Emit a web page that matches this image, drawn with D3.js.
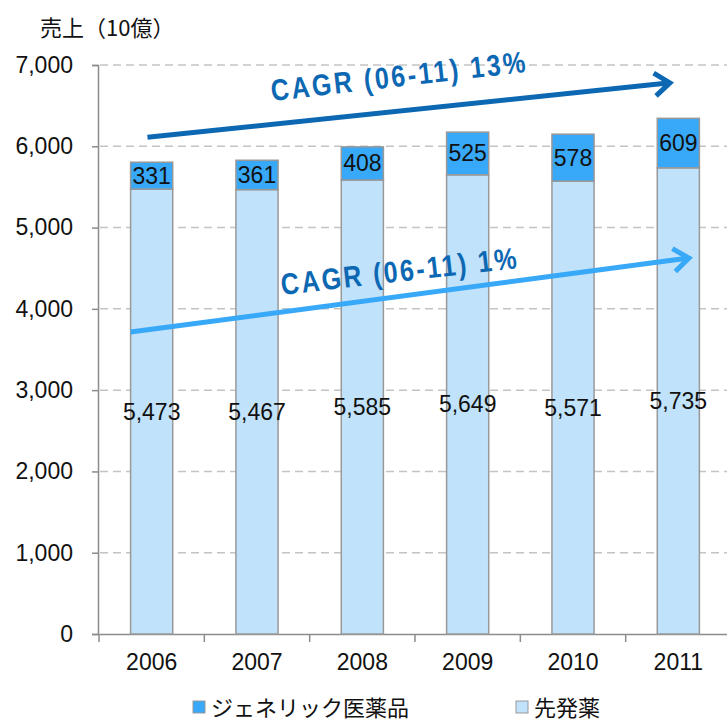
<!DOCTYPE html>
<html>
<head>
<meta charset="utf-8">
<script src="https://cdn.jsdelivr.net/npm/d3@7"></script>
<style>
  body { margin: 0; background: #fff; }
  text { font-family: "Liberation Sans", Arial, sans-serif; }
  .jp { font-family: "Noto Sans CJK JP", "Noto Sans", sans-serif; }
</style>
</head>
<body>
<script>
var years = ["2006", "2007", "2008", "2009", "2010", "2011"];
var generic = [331, 361, 408, 525, 578, 609];
var original = [5473, 5467, 5585, 5649, 5571, 5735];
var yTicks = [0, 1000, 2000, 3000, 4000, 5000, 6000, 7000];
var seriesNames = ["ジェネリック医薬品", "先発薬"];
var cagrLabels = ["CAGR (06-11) 13%", "CAGR (06-11) 1%"];

var w = 727;
var h = 724;
var darkBlue = "#0D68B3";
var genColor = "#38A8F8";
var origColor = "#C0E2FA";

var svg = d3.select("body")
            .append("svg")
              .attr("width", w)
              .attr("height", h);

var x = d3.scaleBand()
  .domain(years)
  .range([99, 731])
  .paddingInner(0.6)
  .paddingOuter(0.3);

var y = d3.scaleLinear()
  .domain([0, 7000])
  .range([634, 65]);

// gridlines
svg.append("g")
  .selectAll("line")
  .data(yTicks.filter(function(d) { return d > 0; }))
  .enter()
  .append("line")
    .attr("x1", 100)
    .attr("x2", w)
    .attr("y1", function(d) { return y(d); })
    .attr("y2", function(d) { return y(d); })
    .attr("stroke", "#c4c4c4")
    .attr("stroke-width", 1.5)
    .attr("stroke-dasharray", "8,5");

// y axis
var yAxis = svg.append("g")
  .attr("transform", "translate(98,0)")
  .call(d3.axisLeft(y).tickValues(yTicks).tickFormat(d3.format(",")).tickSize(6).tickPadding(19));
yAxis.select(".domain").attr("stroke", "#8c8c8c").attr("stroke-width", 1.5);
yAxis.selectAll(".tick line").attr("stroke", "#8c8c8c").attr("stroke-width", 1.5);
yAxis.selectAll(".tick text")
  .style("font-size", "23px")
  .attr("fill", "#111");

// x axis
var xAxis = svg.append("g")
  .attr("transform", "translate(0,634)")
  .call(d3.axisBottom(x).tickSize(0).tickPadding(20));
xAxis.select(".domain").attr("stroke", "#8c8c8c").attr("stroke-width", 1.5);
xAxis.selectAll(".tick text")
  .style("font-size", "23px")
  .attr("fill", "#111");
// tick marks between categories
xAxis.selectAll(".sep")
  .data(years)
  .enter()
  .append("line")
    .attr("x1", function(d) { return x(d) - x.step() * 0.3; })
    .attr("x2", function(d) { return x(d) - x.step() * 0.3; })
    .attr("y1", 0)
    .attr("y2", 8)
    .attr("stroke", "#8c8c8c")
    .attr("stroke-width", 1.5);

// bars: original (bottom)
svg.selectAll("rect.orig")
  .data(original)
  .enter()
  .append("rect")
    .attr("class", "orig")
    .attr("x", function(d, i) { return x(years[i]); })
    .attr("y", function(d) { return y(d); })
    .attr("width", x.bandwidth())
    .attr("height", function(d) { return y(0) - y(d); })
    .attr("fill", origColor)
    .attr("stroke", "#999")
    .attr("stroke-width", 1.5);

// bars: generic (top)
svg.selectAll("rect.gen")
  .data(generic)
  .enter()
  .append("rect")
    .attr("class", "gen")
    .attr("x", function(d, i) { return x(years[i]); })
    .attr("y", function(d, i) { return y(original[i] + d); })
    .attr("width", x.bandwidth())
    .attr("height", function(d, i) { return y(original[i]) - y(original[i] + d); })
    .attr("fill", genColor)
    .attr("stroke", "#999")
    .attr("stroke-width", 1.5);

// value labels
svg.selectAll("text.origLabel")
  .data(original)
  .enter()
  .append("text")
    .attr("class", "origLabel")
    .text(function(d) { return d3.format(",")(d); })
    .attr("text-anchor", "middle")
    .attr("dominant-baseline", "central")
    .attr("x", function(d, i) { return x(years[i]) + x.bandwidth() / 2; })
    .attr("y", function(d) { return y(d / 2); })
    .style("font-size", "23px")
    .attr("fill", "#111");

svg.selectAll("text.genLabel")
  .data(generic)
  .enter()
  .append("text")
    .attr("class", "genLabel")
    .text(function(d) { return d; })
    .attr("text-anchor", "middle")
    .attr("dominant-baseline", "central")
    .attr("x", function(d, i) { return x(years[i]) + x.bandwidth() / 2; })
    .attr("y", function(d, i) { return y(original[i] + d / 2); })
    .style("font-size", "23px")
    .attr("fill", "#111");

// CAGR arrows, endpoints in (category, offset in bandwidths, value)
var arrows = [
  { from: [years[0], 0.4, 6110], to: [years[5], 0.3, 6780], color: darkBlue,
    label: cagrLabels[0], lx: 272, ly: 101, len: 256 },
  { from: [years[0], 0.0, 3715], to: [years[5], 0.75, 4625], color: genColor,
    label: cagrLabels[1], lx: 282, ly: 295, len: 237 }
];

function px(p) { return x(p[0]) + x.bandwidth() * p[1]; }

arrows.forEach(function(a) {
  var x1 = px(a.from), y1 = y(a.from[2]);
  var x2 = px(a.to), y2 = y(a.to[2]);
  var ang = Math.atan2(y2 - y1, x2 - x1);
  var L = 19, spread = 0.65;
  svg.append("line")
    .attr("x1", x1).attr("y1", y1)
    .attr("x2", x2 - 2 * Math.cos(ang)).attr("y2", y2 - 2 * Math.sin(ang))
    .attr("stroke", a.color)
    .attr("stroke-width", 5);
  svg.append("path")
    .attr("d", "M" + (x2 - L * Math.cos(ang - spread)) + "," + (y2 - L * Math.sin(ang - spread)) +
               "L" + x2 + "," + y2 +
               "L" + (x2 - L * Math.cos(ang + spread)) + "," + (y2 - L * Math.sin(ang + spread)))
    .attr("fill", "none")
    .attr("stroke", a.color)
    .attr("stroke-width", 5)
    .attr("stroke-linejoin", "miter");
  svg.append("text")
    .text(a.label)
    .attr("transform", "translate(" + a.lx + "," + a.ly + ") rotate(-6.5) scale(0.84,1)")
    .attr("textLength", a.len / 0.84)
    .attr("lengthAdjust", "spacing")
    .style("font-size", "30px")
    .style("font-weight", "bold")
    .attr("fill", darkBlue);
});

// title
svg.append("text")
  .attr("class", "jp")
  .text("売上（10億）")
  .attr("x", 40)
  .attr("y", 36)
  .style("font-size", "22px")
  .attr("fill", "#111");

// legend
var legend = [
  { name: seriesNames[0], color: genColor, x: 193 },
  { name: seriesNames[1], color: origColor, x: 516 }
];
legend.forEach(function(l) {
  svg.append("rect")
    .attr("x", l.x).attr("y", 701)
    .attr("width", 12).attr("height", 12)
    .attr("fill", l.color)
    .attr("stroke", "#999")
    .attr("stroke-width", 1);
  svg.append("text")
    .attr("class", "jp")
    .text(l.name)
    .attr("x", l.x + 18)
    .attr("y", 706)
    .attr("dominant-baseline", "central")
    .style("font-size", "22px")
    .attr("fill", "#111");
});
</script>
</body>
</html>
